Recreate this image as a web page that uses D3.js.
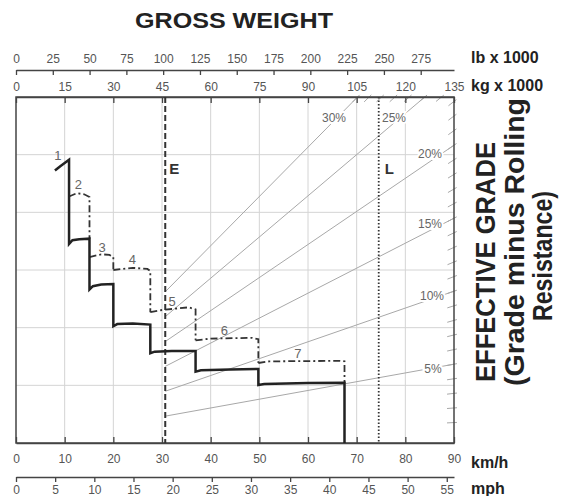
<!DOCTYPE html>
<html><head><meta charset="utf-8">
<script src="https://cdn.jsdelivr.net/npm/d3@7"></script>
<style>body{margin:0;background:#fff}svg text{font-family:"Liberation Sans",Arial,sans-serif}</style>
</head><body><svg id="c" width="570" height="496"></svg>
<script>
// ---------- data ----------
const kmhTicks = [0,10,20,30,40,50,60,70,80,90];
const mphTicks = [0,5,10,15,20,25,30,35,40,45,50,55];
const kgTicks = [0,15,30,45,60,75,90,105,120,135];
const lbTicks = [0,25,50,75,100,125,150,175,200,225,250,275];
const grades = [5,10,15,20,25,30];            // effective grade lines (%)
const gradeTickSteps = d3.range(1,31);        // 1% border marks
const gradeOffset = 0.4;                       // read-off offset of the grade fan
const emptyWeight = 46;                        // E, kg x 1000
const loadedWeight = 111.8;                    // L, kg x 1000
// full rimpull curve (speed km/h, rimpull t)
const solidCurve = [
  [8.0,25.2],[9.1,25.6],[10.9,26.2],
  [10.9,18.4],[11.6,18.75],[13,18.85],[15.1,18.9],
  [15.1,14.2],[15.8,14.5],[17.5,14.65],[20.0,14.7],
  [20.0,10.8],[20.8,11.0],[24,11.05],[27.6,10.95],
  [27.6,8.3],[28.5,8.45],[32,8.5],[36.9,8.5],
  [36.9,6.6],[38,6.72],[44,6.8],[49.8,6.84],
  [49.8,5.36],[51,5.45],[60,5.55],[67.5,5.58],
  [67.5,0]
];
// dash-dot curves per gear
const dashGear2 = [[10.9,22.8],[12.5,23.1],[14,23.0],[15.1,22.75],[15.1,18.9]];
const dashGear3 = [[15.1,17.2],[17.5,17.45],[19.2,17.4],[20.0,17.2],[20.0,16.0]];
const dashGear4 = [[20.0,16.0],[24,16.2],[27,16.1],[27.6,15.9],[27.6,12.1]];
const dashGear5 = [[27.6,12.1],[30,12.3],[35.5,12.55],[36.9,12.35],[36.9,9.5]];
const dashGear6 = [[36.9,9.5],[40,9.65],[48.5,9.73],[49.8,9.6],[49.8,7.4]];
const dashGear7 = [[49.8,7.4],[52,7.55],[66.5,7.6],[67.5,7.55],[67.5,5.58]];
const gearNames = ["1","2","3","4","5","6","7"];
const gearLabelAt = [[8.6,26.6],[12.8,23.9],[17.7,18.1],[23.9,17.0],[32.1,13.1],[42.8,10.45],[57.9,8.3]];

// ---------- scales ----------
const svg = d3.select("#c");
const L = 16, R = 454, T = 97, B = 443;
const kmh = d3.scaleLinear().domain([0,90]).range([L,R]);
const mph = d3.scaleLinear().domain([0,90/1.609344]).range([L,R]);
const kg = d3.scaleLinear().domain([0,135]).range([L,R]);
const lb = d3.scaleLinear().domain([0,135/0.45359237]).range([L,R]);
const y = d3.scaleLinear().domain([0,32]).range([B,T]);

// ---------- grid ----------
const grid = svg.append("g").attr("stroke","#d4d4d4").attr("stroke-width",1);
kmhTicks.slice(1,-1).forEach(v=>grid.append("line").attr("x1",kmh(v)).attr("x2",kmh(v)).attr("y1",T).attr("y2",B));
d3.range(1,6).forEach(i=>{const v=32*i/6;grid.append("line").attr("x1",L).attr("x2",R).attr("y1",y(v)).attr("y2",y(v));});

// ---------- grade lines ----------
const rim = (w,g)=> w*(g+gradeOffset)/100;
const gl = svg.append("g").attr("stroke","#a8a8a8").attr("stroke-width",1).attr("fill","none");
grades.forEach(g=>{
  const wEnd = Math.min(135, 3200/(g+gradeOffset));
  gl.append("line").attr("x1",kg(emptyWeight)).attr("y1",y(rim(emptyWeight,g)))
    .attr("x2",kg(wEnd)).attr("y2",y(rim(wEnd,g)));
});
gradeTickSteps.forEach(g=>{
  const wEnd = Math.min(135, 3200/(g+gradeOffset));
  const hx = kg(wEnd), hy = y(rim(wEnd,g));
  const dx = hx-kg(0), dy = hy-y(0), n=Math.hypot(dx,dy);
  const ux=dx/n, uy=dy/n;
  gl.append("line").attr("x1",hx-7*ux).attr("y1",hy-7*uy).attr("x2",hx+3*ux).attr("y2",hy+3*uy);
});

// ---------- frame & axes ----------
svg.append("rect").attr("x",L).attr("y",T).attr("width",R-L).attr("height",B-T)
  .attr("fill","none").attr("stroke","#444").attr("stroke-width",1.5);

function styleAxis(g){
  g.select(".domain").attr("stroke","#444").attr("stroke-width",1.5);
  g.selectAll(".tick line").attr("stroke","#444").attr("stroke-width",1.3);
  g.selectAll(".tick text").attr("fill","#555").attr("font-size",12)
   .attr("font-family","'Liberation Sans',Arial,sans-serif");
}
svg.append("g").attr("transform",`translate(0,70)`)
  .call(d3.axisTop(lb).tickValues(lbTicks).tickSizeInner(-5).tickSizeOuter(0).tickPadding(7)).call(styleAxis);
svg.append("g").attr("transform",`translate(0,${T})`)
  .call(d3.axisTop(kg).tickValues(kgTicks).tickSizeInner(-6).tickSizeOuter(0).tickPadding(6)).call(styleAxis);
svg.append("g").attr("transform",`translate(0,${B})`)
  .call(d3.axisBottom(kmh).tickValues(kmhTicks).tickSizeInner(-6).tickSizeOuter(0).tickPadding(11)).call(styleAxis);
svg.append("g").attr("transform",`translate(0,477)`)
  .call(d3.axisBottom(mph).tickValues(mphTicks).tickSizeInner(5).tickSizeOuter(0).tickPadding(3)).call(styleAxis);

// ---------- E / L lines ----------
svg.append("line").attr("x1",kg(emptyWeight)).attr("x2",kg(emptyWeight)).attr("y1",T).attr("y2",B)
  .attr("stroke","#333").attr("stroke-width",2).attr("stroke-dasharray","6,3");
svg.append("line").attr("x1",kg(loadedWeight)).attr("x2",kg(loadedWeight)).attr("y1",T).attr("y2",B)
  .attr("stroke","#333").attr("stroke-width",1.8).attr("stroke-dasharray","1.5,2");
svg.append("text").attr("x",kg(emptyWeight)+4).attr("y",174).attr("font-size",15).attr("font-weight","bold").attr("fill","#333").text("E");
svg.append("text").attr("x",kg(loadedWeight)+6).attr("y",174).attr("font-size",15).attr("font-weight","bold").attr("fill","#333").text("L");

// ---------- curves ----------
const line = d3.line().x(d=>kmh(d[0])).y(d=>y(d[1]));
[dashGear2,dashGear3,dashGear4,dashGear5,dashGear6,dashGear7].forEach(seg=>{
  svg.append("path").attr("d",line(seg)).attr("fill","none").attr("stroke","#333")
    .attr("stroke-width",1.8).attr("stroke-dasharray","7,3,2,3");
});
svg.append("path").attr("d",line(solidCurve)).attr("fill","none").attr("stroke","#222").attr("stroke-width",2.5);

gearNames.forEach((t,i)=>{
  svg.append("text").attr("x",kmh(gearLabelAt[i][0])).attr("y",y(gearLabelAt[i][1]))
    .attr("text-anchor","middle").attr("dominant-baseline","central")
    .attr("font-size",13).attr("fill","#666").text(t);
});

// ---------- grade labels ----------
const gradeLabelPos = {30:[334,118],25:[394,118],20:[430,154],15:[430,224],10:[432,296],5:[433,369]};
grades.forEach(g=>{
  const p = gradeLabelPos[g];
  svg.append("text").attr("x",p[0]).attr("y",p[1]).attr("text-anchor","middle").attr("dominant-baseline","central")
    .attr("font-size",12).attr("fill","#666").attr("stroke","#fff").attr("stroke-width",4)
    .attr("paint-order","stroke").text(g+"%");
});

// ---------- titles ----------
svg.append("text").attr("x",234).attr("y",28).attr("text-anchor","middle").attr("font-size",22)
  .attr("font-weight","bold").attr("fill","#222").attr("textLength",198).attr("lengthAdjust","spacingAndGlyphs").text("GROSS WEIGHT");
const unit = (t,yy)=>svg.append("text").attr("x",471).attr("y",yy).attr("font-size",16).attr("font-weight","bold").attr("fill","#222").text(t);
unit("lb x 1000",63); unit("kg x 1000",91); unit("km/h",468); unit("mph",494);

const side = [["EFFECTIVE GRADE",495,262,240],["(Grade minus Rolling",524,242,288],["Resistance)",552,256,130]];
side.forEach(s=>{
  svg.append("text").attr("transform",`translate(${s[1]},${s[2]}) rotate(-90)`).attr("text-anchor","middle")
    .attr("font-size",27).attr("font-weight","bold").attr("fill","#222")
    .attr("textLength",s[3]).attr("lengthAdjust","spacingAndGlyphs").text(s[0]);
});
</script></body></html>
